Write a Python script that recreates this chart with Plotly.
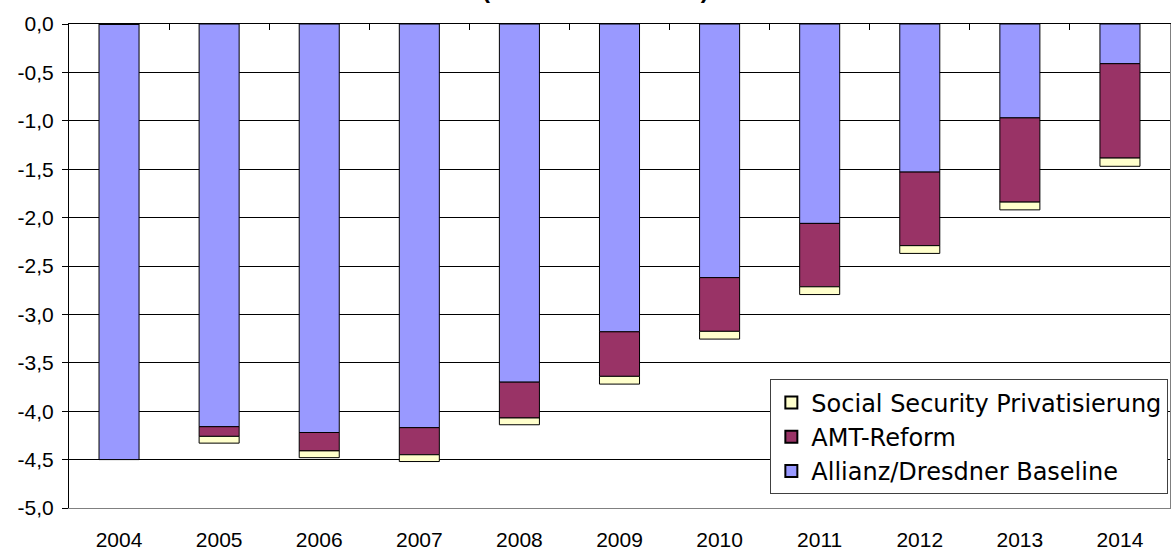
import plotly.graph_objects as go

years = ["2004", "2005", "2006", "2007", "2008", "2009", "2010", "2011", "2012", "2013", "2014"]
baseline = [-4.50, -4.16, -4.22, -4.17, -3.70, -3.18, -2.62, -2.06, -1.53, -0.97, -0.41]
amt_reform = [0.0, -0.10, -0.19, -0.28, -0.37, -0.46, -0.555, -0.655, -0.76, -0.87, -0.975]
social_security = [0.0, -0.07, -0.07, -0.07, -0.07, -0.08, -0.08, -0.08, -0.08, -0.08, -0.085]

y_tickvals = [0.0, -0.5, -1.0, -1.5, -2.0, -2.5, -3.0, -3.5, -4.0, -4.5, -5.0]
y_ticktext = ["0,0", "-0,5", "-1,0", "-1,5", "-2,0", "-2,5", "-3,0", "-3,5", "-4,0", "-4,5", "-5,0"]
boundary_vals = [i + 0.5 for i in range(len(years) - 1)]

title_text = "(in Prozent des BIP)"

FONT = "Liberation Sans, Arial, sans-serif"
LEGEND_FONT = "DejaVu Sans, Liberation Sans, Arial, sans-serif"

fig = go.Figure()
fig.add_trace(go.Bar(x=years, y=baseline, name="Allianz/Dresdner Baseline",
                     marker=dict(color="#9999FF", line=dict(color="#000000", width=1))))
fig.add_trace(go.Bar(x=years, y=amt_reform, name="AMT-Reform",
                     marker=dict(color="#993366", line=dict(color="#000000", width=1))))
fig.add_trace(go.Bar(x=years, y=social_security, name="Social Security Privatisierung",
                     marker=dict(color="#FFFFCC", line=dict(color="#000000", width=1))))
# helper trace for the overlay axes (top tick axis / right border)
fig.add_trace(go.Scatter(x=[None], y=[None], xaxis="x2", yaxis="y2", showlegend=False,
                         hoverinfo="skip", mode="markers"))

fig.update_layout(
    width=1174, height=552,
    margin=dict(l=69, r=4, t=24, b=44, autoexpand=False),
    paper_bgcolor="white", plot_bgcolor="white",
    barmode="relative", bargap=0.6,
    font=dict(family=FONT, size=21, color="#000000"),
    showlegend=True,
    legend=dict(traceorder="reversed", x=0.9985, xanchor="right", y=0.028, yanchor="bottom",
                bgcolor="white", bordercolor="#404040", borderwidth=1,
                font=dict(family=LEGEND_FONT, size=24, color="#000000"),
                itemsizing="constant", tracegroupgap=0, itemwidth=30),
    xaxis=dict(type="category", showline=True, linecolor="#808080", linewidth=1, mirror=True,
               ticks="", showgrid=False, tickfont=dict(size=21), ticklabelstandoff=13,
               automargin=False),
    yaxis=dict(range=[-5, 0], tickvals=y_tickvals, ticktext=y_ticktext, showline=True,
               linecolor="#000000", linewidth=1, ticks="outside", ticklen=6, tickcolor="#000000",
               showgrid=True, gridcolor="#000000", gridwidth=1, zeroline=False,
               tickfont=dict(size=21), ticklabelstandoff=4, automargin=False),
    xaxis2=dict(overlaying="x", side="top", range=[-0.5, len(years) - 0.5], tickvals=boundary_vals,
                ticks="inside", ticklen=6, tickcolor="#000000", showticklabels=False,
                showline=True, linecolor="#000000", linewidth=1, showgrid=False, zeroline=False,
                automargin=False),
    yaxis2=dict(overlaying="y", side="right", range=[-5, 0], showticklabels=False, ticks="",
                showline=True, linecolor="#808080", linewidth=1, showgrid=False, zeroline=False,
                automargin=False),
    annotations=[dict(text="<b>" + title_text + "</b>", xref="paper", yref="paper",
                      x=0.478, y=1, yanchor="bottom", xanchor="center", yshift=19,
                      showarrow=False, font=dict(family=FONT, size=24, color="#000000"))],
)

fig.write_html("out.html")
